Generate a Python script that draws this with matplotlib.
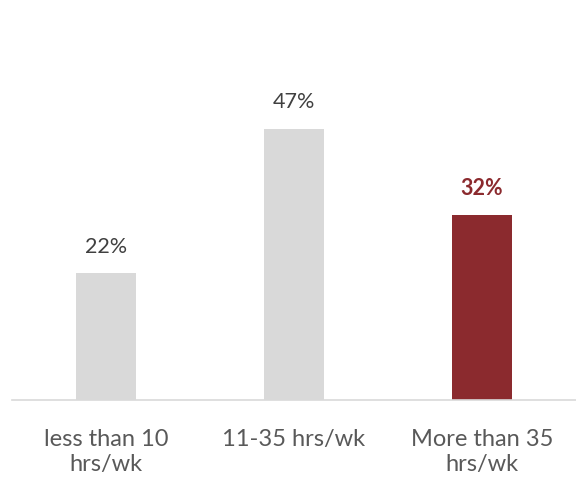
import matplotlib.pyplot as plt

categories = ["less than 10\nhrs/wk", "11-35 hrs/wk", "More than 35\nhrs/wk"]
values = [22, 47, 32]
labels = ["22%", "47%", "32%"]
colors = ["#D9D9D9", "#D9D9D9", "#8B2A2E"]

plt.rcParams['font.family'] = ['Lato', 'DejaVu Sans']

fig = plt.figure(figsize=(5.76, 4.81), dpi=100)
ax = fig.add_axes([12 / 576, 80 / 481, 564 / 576, 380 / 481])

x = range(len(values))
ax.bar(x, values, width=0.314, color=colors)
ax.set_xlim(-0.5, 2.5)
ax.set_ylim(0, 380 / 5.77)

for i, (v, lab) in enumerate(zip(values, labels)):
    if i == 2:
        ax.text(i, v + 3.0, lab, ha="center", va="bottom", fontsize=15.5,
                color="#8B2A2E", fontweight="bold")
    else:
        ax.text(i, v + 3.0, lab, ha="center", va="bottom", fontsize=15.5,
                color="#404040")

ax.set_xticks(list(x))
ax.set_xticklabels(categories, fontsize=17, color="#595959", linespacing=1.25)
ax.tick_params(axis="x", length=0, pad=20)
ax.set_yticks([])
for s in ["top", "left", "right"]:
    ax.spines[s].set_visible(False)
ax.spines["bottom"].set_color("#D9D9D9")
ax.spines["bottom"].set_linewidth(1.2)

fig.savefig("out.png", dpi=100)
